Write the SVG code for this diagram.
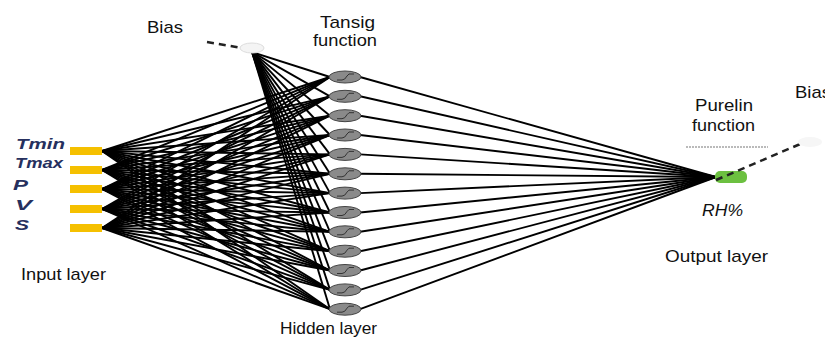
<svg xmlns="http://www.w3.org/2000/svg" width="825" height="340" viewBox="0 0 825 340">
<style>
.lbl{font-family:"Liberation Sans",Arial,sans-serif;font-size:17px;fill:#111}
.var{font-family:"Liberation Sans",Arial,sans-serif;font-size:15px;font-style:italic;font-weight:bold;fill:#26305e}
.c line{stroke:#000;stroke-width:1.9}
.inp{fill:#f5c000}
.hid{fill:#8a8a8a;stroke:#444;stroke-width:1}
.sig{fill:none;stroke:#333;stroke-width:1}
.dash{stroke:#222;stroke-width:2.5;stroke-dasharray:7 5;fill:none}
</style>
<defs>
<g id="hnode"><ellipse class="hid" cx="0" cy="0" rx="16" ry="6"/><path class="sig" d="M-8,3 L-3,3 Q0,3 2,-1 L4,-3 L9,-3"/></g>
</defs>
<g class="c" id="connectors">
<g id="in-hid">
<line x1="102" y1="151" x2="330" y2="77"/><line x1="102" y1="151" x2="330" y2="96.3"/><line x1="102" y1="151" x2="330" y2="115.7"/><line x1="102" y1="151" x2="330" y2="135"/><line x1="102" y1="151" x2="330" y2="154.4"/><line x1="102" y1="151" x2="330" y2="173.8"/><line x1="102" y1="151" x2="330" y2="193.1"/><line x1="102" y1="151" x2="330" y2="212.5"/><line x1="102" y1="151" x2="330" y2="231.8"/><line x1="102" y1="151" x2="330" y2="251.2"/><line x1="102" y1="151" x2="330" y2="270.5"/><line x1="102" y1="151" x2="330" y2="289.9"/><line x1="102" y1="151" x2="330" y2="309.2"/>
<line x1="102" y1="170" x2="330" y2="77"/><line x1="102" y1="170" x2="330" y2="96.3"/><line x1="102" y1="170" x2="330" y2="115.7"/><line x1="102" y1="170" x2="330" y2="135"/><line x1="102" y1="170" x2="330" y2="154.4"/><line x1="102" y1="170" x2="330" y2="173.8"/><line x1="102" y1="170" x2="330" y2="193.1"/><line x1="102" y1="170" x2="330" y2="212.5"/><line x1="102" y1="170" x2="330" y2="231.8"/><line x1="102" y1="170" x2="330" y2="251.2"/><line x1="102" y1="170" x2="330" y2="270.5"/><line x1="102" y1="170" x2="330" y2="289.9"/><line x1="102" y1="170" x2="330" y2="309.2"/>
<line x1="102" y1="189" x2="330" y2="77"/><line x1="102" y1="189" x2="330" y2="96.3"/><line x1="102" y1="189" x2="330" y2="115.7"/><line x1="102" y1="189" x2="330" y2="135"/><line x1="102" y1="189" x2="330" y2="154.4"/><line x1="102" y1="189" x2="330" y2="173.8"/><line x1="102" y1="189" x2="330" y2="193.1"/><line x1="102" y1="189" x2="330" y2="212.5"/><line x1="102" y1="189" x2="330" y2="231.8"/><line x1="102" y1="189" x2="330" y2="251.2"/><line x1="102" y1="189" x2="330" y2="270.5"/><line x1="102" y1="189" x2="330" y2="289.9"/><line x1="102" y1="189" x2="330" y2="309.2"/>
<line x1="102" y1="209" x2="330" y2="77"/><line x1="102" y1="209" x2="330" y2="96.3"/><line x1="102" y1="209" x2="330" y2="115.7"/><line x1="102" y1="209" x2="330" y2="135"/><line x1="102" y1="209" x2="330" y2="154.4"/><line x1="102" y1="209" x2="330" y2="173.8"/><line x1="102" y1="209" x2="330" y2="193.1"/><line x1="102" y1="209" x2="330" y2="212.5"/><line x1="102" y1="209" x2="330" y2="231.8"/><line x1="102" y1="209" x2="330" y2="251.2"/><line x1="102" y1="209" x2="330" y2="270.5"/><line x1="102" y1="209" x2="330" y2="289.9"/><line x1="102" y1="209" x2="330" y2="309.2"/>
<line x1="102" y1="228" x2="330" y2="77"/><line x1="102" y1="228" x2="330" y2="96.3"/><line x1="102" y1="228" x2="330" y2="115.7"/><line x1="102" y1="228" x2="330" y2="135"/><line x1="102" y1="228" x2="330" y2="154.4"/><line x1="102" y1="228" x2="330" y2="173.8"/><line x1="102" y1="228" x2="330" y2="193.1"/><line x1="102" y1="228" x2="330" y2="212.5"/><line x1="102" y1="228" x2="330" y2="231.8"/><line x1="102" y1="228" x2="330" y2="251.2"/><line x1="102" y1="228" x2="330" y2="270.5"/><line x1="102" y1="228" x2="330" y2="289.9"/><line x1="102" y1="228" x2="330" y2="309.2"/>
</g>
<g id="bias-hid">
<line x1="252" y1="52" x2="330" y2="77"/><line x1="252" y1="52" x2="330" y2="96.3"/><line x1="252" y1="52" x2="330" y2="115.7"/><line x1="252" y1="52" x2="330" y2="135"/><line x1="252" y1="52" x2="330" y2="154.4"/><line x1="252" y1="52" x2="330" y2="173.8"/><line x1="252" y1="52" x2="330" y2="193.1"/><line x1="252" y1="52" x2="330" y2="212.5"/><line x1="252" y1="52" x2="330" y2="231.8"/><line x1="252" y1="52" x2="330" y2="251.2"/><line x1="252" y1="52" x2="330" y2="270.5"/><line x1="252" y1="52" x2="330" y2="289.9"/><line x1="252" y1="52" x2="330" y2="309.2"/>
</g>
<g id="hid-out">
<line x1="360" y1="77" x2="716" y2="177"/><line x1="360" y1="96.3" x2="716" y2="177"/><line x1="360" y1="115.7" x2="716" y2="177"/><line x1="360" y1="135" x2="716" y2="177"/><line x1="360" y1="154.4" x2="716" y2="177"/><line x1="360" y1="173.8" x2="716" y2="177"/><line x1="360" y1="193.1" x2="716" y2="177"/><line x1="360" y1="212.5" x2="716" y2="177"/><line x1="360" y1="231.8" x2="716" y2="177"/><line x1="360" y1="251.2" x2="716" y2="177"/><line x1="360" y1="270.5" x2="716" y2="177"/><line x1="360" y1="289.9" x2="716" y2="177"/><line x1="360" y1="309.2" x2="716" y2="177"/>
</g>
<path class="dash" d="M207,42 L242,48"/>
</g>
<g id="input-layer">
<rect class="inp" x="70" y="147" width="32" height="8"/>
<rect class="inp" x="70" y="166" width="32" height="8"/>
<rect class="inp" x="70" y="185" width="32" height="8"/>
<rect class="inp" x="70" y="205" width="32" height="8"/>
<rect class="inp" x="70" y="224" width="32" height="8"/>
<text class="var" x="16" y="149" textLength="49" lengthAdjust="spacingAndGlyphs">Tmin</text>
<text class="var" x="15" y="168" textLength="48" lengthAdjust="spacingAndGlyphs">Tmax</text>
<text class="var" x="13" y="190" textLength="15" lengthAdjust="spacingAndGlyphs">P</text>
<text class="var" x="15" y="210" textLength="17" lengthAdjust="spacingAndGlyphs">V</text>
<text class="var" x="15" y="230" textLength="14" lengthAdjust="spacingAndGlyphs">S</text>
<text class="lbl" x="21" y="280" textLength="85" lengthAdjust="spacingAndGlyphs">Input layer</text>
</g>
<g id="bias-hidden">
<ellipse cx="252" cy="48" rx="12" ry="5" fill="#f4f4f4" stroke="#ddd"/>
<text class="lbl" x="147" y="33" textLength="36" lengthAdjust="spacingAndGlyphs">Bias</text>
</g>
<g id="hidden-layer">
<use href="#hnode" x="345" y="77"/><use href="#hnode" x="345" y="96.3"/><use href="#hnode" x="345" y="115.7"/><use href="#hnode" x="345" y="135"/><use href="#hnode" x="345" y="154.4"/><use href="#hnode" x="345" y="173.8"/><use href="#hnode" x="345" y="193.1"/><use href="#hnode" x="345" y="212.5"/><use href="#hnode" x="345" y="231.8"/><use href="#hnode" x="345" y="251.2"/><use href="#hnode" x="345" y="270.5"/><use href="#hnode" x="345" y="289.9"/><use href="#hnode" x="345" y="309.2"/>
<text class="lbl" x="320" y="28" textLength="55" lengthAdjust="spacingAndGlyphs">Tansig</text>
<text class="lbl" x="313" y="46" textLength="64" lengthAdjust="spacingAndGlyphs">function</text>
<text class="lbl" x="280" y="334" textLength="97" lengthAdjust="spacingAndGlyphs">Hidden layer</text>
</g>
<g id="output-layer">
<line x1="686" y1="147" x2="768" y2="147" stroke="#777" stroke-width="1.2" stroke-dasharray="2 1"/>
<rect x="715" y="171" width="32" height="12" rx="5" fill="#6cc040"/>
<path class="dash" d="M716,180 L812,139"/>
<ellipse cx="810" cy="142" rx="12" ry="5" fill="#f6f6f6"/>
<text class="lbl" x="695" y="111" textLength="58" lengthAdjust="spacingAndGlyphs">Purelin</text>
<text class="lbl" x="692" y="131" textLength="63" lengthAdjust="spacingAndGlyphs">function</text>
<text class="lbl" x="795" y="98" textLength="36" lengthAdjust="spacingAndGlyphs">Bias</text>
<text class="lbl" x="702" y="216" style="font-style:italic" textLength="41" lengthAdjust="spacingAndGlyphs">RH%</text>
<text class="lbl" x="665" y="262" textLength="103" lengthAdjust="spacingAndGlyphs">Output layer</text>
</g>
</svg>
